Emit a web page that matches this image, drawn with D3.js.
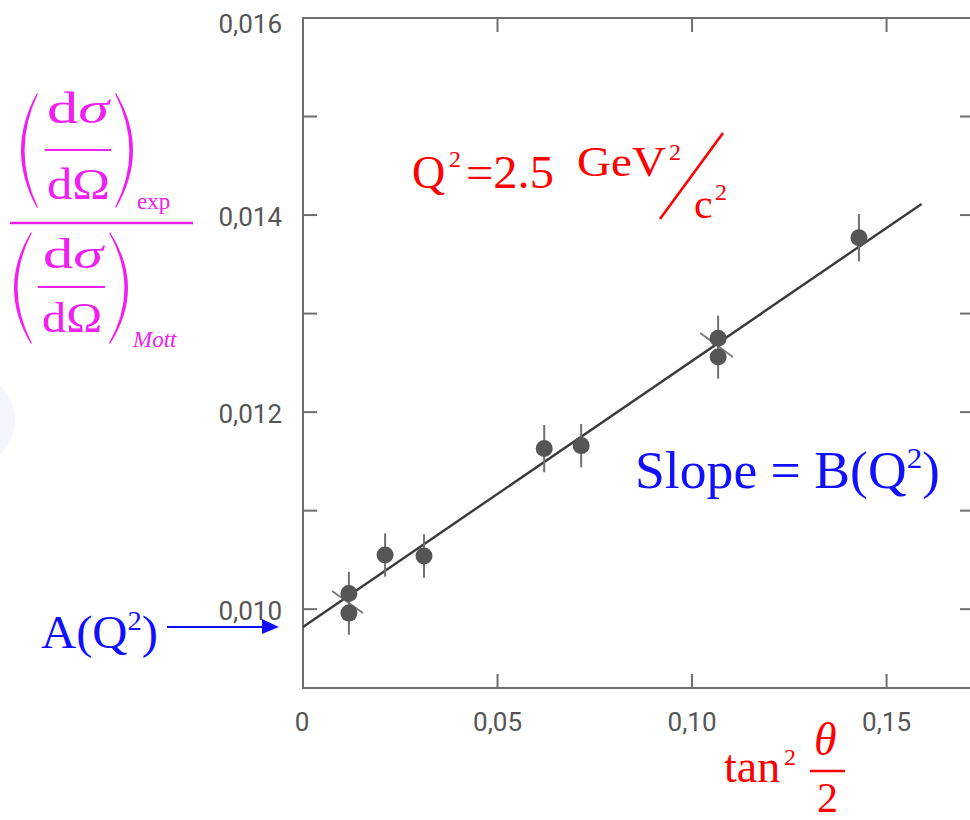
<!DOCTYPE html>
<html>
<head>
<meta charset="utf-8">
<script src="https://cdn.jsdelivr.net/npm/d3@7"></script>
<style>
  html, body { margin: 0; padding: 0; background: #fff; }
  svg { display: block; }
</style>
</head>
<body>
<svg id="chart" width="970" height="820"></svg>
<script>
// ---------------- data ----------------
const tanSqHalfTheta = [0.0118, 0.0118, 0.0211, 0.0311, 0.0620, 0.0715, 0.1067, 0.1067, 0.1429];
const crossSectionRatio = [0.01016, 0.00996, 0.01055, 0.01054, 0.01163, 0.01166, 0.01275, 0.01256, 0.01377];
const ratioError = [0.00022, 0.00022, 0.00022, 0.00022, 0.00024, 0.00022, 0.00023, 0.00022, 0.00024];

const fitIntercept = 0.00982;   // A(Q^2)
const fitSlope = 0.0270;        // B(Q^2)
const fitXRange = [0, 0.159];

// short marks crossing the fit line (error envelope of the fit)
const envelopeX1 = [0.0075, 0.1021];
const envelopeY1 = [0.010184, 0.012803];
const envelopeX2 = [0.0154, 0.1105];
const envelopeY2 = [0.009961, 0.012559];

const xTickValues = [0, 0.05, 0.10, 0.15];
const xTickLabels = ["0", "0,05", "0,10", "0,15"];
const yTickValues = [0.010, 0.012, 0.014, 0.016];
const yTickLabels = ["0,010", "0,012", "0,014", "0,016"];
const yMinorTicks = [0.010, 0.011, 0.012, 0.013, 0.014, 0.015, 0.016];

// ---------------- layout ----------------
const svg = d3.select("#chart");
const W = 970, H = 820;
svg.append("rect").attr("width", W).attr("height", H).attr("fill", "#fff");

// faint background artefact at left
svg.append("ellipse").attr("cx", -55).attr("cy", 420).attr("rx", 70).attr("ry", 56)
  .attr("fill", "#f3f7fd");

const x = d3.scaleLinear().domain([0, 0.1735]).range([303, 978]);
const y = d3.scaleLinear().domain([0.0092, 0.016]).range([688, 18]);

const frameColor = "#6e6e6e";
const tickFont = "Roboto, 'Open Sans', Arial, sans-serif";

// frame
const g = svg.append("g");
g.append("rect")
  .attr("x", x(0)).attr("y", y(0.016))
  .attr("width", x(0.1735) - x(0)).attr("height", y(0.0092) - y(0.016))
  .attr("fill", "none").attr("stroke", frameColor).attr("stroke-width", 2);

// y ticks (inward, both sides)
const tickLen = 14;
yMinorTicks.forEach(v => {
  g.append("line").attr("x1", x(0)).attr("x2", x(0) + tickLen)
    .attr("y1", y(v)).attr("y2", y(v)).attr("stroke", frameColor).attr("stroke-width", 2);
  g.append("line").attr("x1", x(0.1735)).attr("x2", x(0.1735) - tickLen - 4)
    .attr("y1", y(v)).attr("y2", y(v)).attr("stroke", frameColor).attr("stroke-width", 2);
});
// x ticks (inward bottom & top)
xTickValues.slice(1).forEach(v => {
  g.append("line").attr("x1", x(v)).attr("x2", x(v))
    .attr("y1", y(0.0092)).attr("y2", y(0.0092) - tickLen).attr("stroke", frameColor).attr("stroke-width", 2);
  g.append("line").attr("x1", x(v)).attr("x2", x(v))
    .attr("y1", y(0.016)).attr("y2", y(0.016) + tickLen).attr("stroke", frameColor).attr("stroke-width", 2);
});

// tick labels
yTickValues.forEach((v, i) => {
  g.append("text").attr("x", 282).attr("y", y(v) + 11 + (i === 3 ? 4 : 0))
    .attr("text-anchor", "end").attr("font-family", tickFont).attr("font-size", 26)
    .attr("fill", "#555").text(yTickLabels[i]);
});
xTickValues.forEach((v, i) => {
  g.append("text").attr("x", x(v) - (i === 0 ? 1 : 0)).attr("y", 731)
    .attr("text-anchor", "middle").attr("font-family", tickFont).attr("font-size", 26)
    .attr("fill", "#555").text(xTickLabels[i]);
});

// fit line
g.append("line")
  .attr("x1", x(fitXRange[0])).attr("y1", y(fitIntercept + fitSlope * fitXRange[0]))
  .attr("x2", x(fitXRange[1])).attr("y2", y(fitIntercept + fitSlope * fitXRange[1]))
  .attr("stroke", "#3a3a3a").attr("stroke-width", 2.4);

// envelope marks
envelopeX1.forEach((v, i) => {
  g.append("line")
    .attr("x1", x(envelopeX1[i])).attr("y1", y(envelopeY1[i]))
    .attr("x2", x(envelopeX2[i])).attr("y2", y(envelopeY2[i]))
    .attr("stroke", "#777").attr("stroke-width", 1.8);
});

// error bars
tanSqHalfTheta.forEach((v, i) => {
  g.append("line")
    .attr("x1", x(v)).attr("x2", x(v))
    .attr("y1", y(crossSectionRatio[i] + ratioError[i]))
    .attr("y2", y(crossSectionRatio[i] - ratioError[i]))
    .attr("stroke", "#707070").attr("stroke-width", 2);
});
// points
tanSqHalfTheta.forEach((v, i) => {
  g.append("circle").attr("cx", x(v)).attr("cy", y(crossSectionRatio[i]))
    .attr("r", 8.5).attr("fill", "#555");
});

// ---------------- annotations ----------------
const serif = "'Liberation Serif', 'Times New Roman', serif";

function paren(sel, xl, xr, y0, y1, left, color, thick) {
  const ym = (y0 + y1) / 2;
  let p;
  if (left) {
    const c1 = 2 * xl - xr, c2 = 2 * (xl + thick) - xr;
    p = `M${xr},${y0} Q${c1},${ym} ${xr},${y1} L${xr + 0.8},${y1 - 1} Q${c2},${ym} ${xr + 0.8},${y0 + 1} Z`;
  } else {
    const c1 = 2 * xr - xl, c2 = 2 * (xr - thick) - xl;
    p = `M${xl},${y0} Q${c1},${ym} ${xl},${y1} L${xl - 0.8},${y1 - 1} Q${c2},${ym} ${xl - 0.8},${y0 + 1} Z`;
  }
  sel.append("path").attr("d", p).attr("fill", color);
}

function dsig(sel, x0, yb, fs, len, color) {
  const t = sel.append("text").attr("x", x0).attr("y", yb).attr("font-family", serif)
    .attr("font-size", fs).attr("fill", color)
    .attr("textLength", len).attr("lengthAdjust", "spacingAndGlyphs");
  t.append("tspan").text("d");
  t.append("tspan").attr("font-style", "italic").text("σ");
}
function domega(sel, x0, yb, fs, len, color) {
  sel.append("text").attr("x", x0).attr("y", yb).attr("font-family", serif)
    .attr("font-size", fs).attr("fill", color)
    .attr("textLength", len).attr("lengthAdjust", "spacingAndGlyphs").text("dΩ");
}

const mag = "#f020f0";
const ylab = svg.append("g");
// upper (exp)
paren(ylab, 21, 37, 93, 208, true, mag, 3.2);
paren(ylab, 116, 133, 93, 208, false, mag, 3.2);
dsig(ylab, 47, 123, 44, 62, mag);
ylab.append("line").attr("x1", 45).attr("x2", 111).attr("y1", 150).attr("y2", 150)
  .attr("stroke", mag).attr("stroke-width", 1.8);
domega(ylab, 47, 199, 44, 63, mag);
ylab.append("text").attr("x", 137).attr("y", 209).attr("font-family", serif).attr("font-size", 23)
  .attr("fill", mag).text("exp");
// main bar
ylab.append("line").attr("x1", 10).attr("x2", 193).attr("y1", 223).attr("y2", 223)
  .attr("stroke", mag).attr("stroke-width", 2.6);
// lower (Mott)
paren(ylab, 14, 31, 232, 344, true, mag, 3.2);
paren(ylab, 110, 128, 232, 344, false, mag, 3.2);
dsig(ylab, 43, 268, 42, 60, mag);
ylab.append("line").attr("x1", 38).attr("x2", 105).attr("y1", 287).attr("y2", 287)
  .attr("stroke", mag).attr("stroke-width", 1.8);
domega(ylab, 42, 332, 42, 60, mag);
ylab.append("text").attr("x", 133).attr("y", 347).attr("font-family", serif).attr("font-size", 23)
  .attr("font-style", "italic").attr("fill", mag).text("Mott");

// red title
const red = "#ff0000";
const t = svg.append("g").attr("fill", red).attr("font-family", serif);
t.append("text").attr("x", 412).attr("y", 188).attr("font-size", 46).text("Q");
t.append("text").attr("x", 449).attr("y", 167).attr("font-size", 24).text("2");
t.append("text").attr("x", 466).attr("y", 188).attr("font-size", 46)
  .attr("textLength", 88).attr("lengthAdjust", "spacingAndGlyphs").text("=2.5");
t.append("text").attr("x", 577).attr("y", 176).attr("font-size", 43)
  .attr("textLength", 89).attr("lengthAdjust", "spacingAndGlyphs").text("GeV");
t.append("text").attr("x", 669).attr("y", 160).attr("font-size", 24).text("2");
svg.append("line").attr("x1", 660).attr("y1", 219).attr("x2", 723).attr("y2", 133)
  .attr("stroke", red).attr("stroke-width", 2.6);
t.append("text").attr("x", 694).attr("y", 218).attr("font-size", 42).text("c");
t.append("text").attr("x", 715).attr("y", 200).attr("font-size", 24).text("2");

// blue slope text
const blue = "#1010ff";
const s = svg.append("text").attr("x", 635).attr("y", 488).attr("font-family", serif)
  .attr("font-size", 52).attr("fill", blue).attr("textLength", 305).attr("lengthAdjust", "spacingAndGlyphs");
s.append("tspan").text("Slope = B(Q");
s.append("tspan").attr("font-size", 30).attr("dy", -20).text("2");
s.append("tspan").attr("dy", 20).text(")");

// A(Q^2) with arrow
const a = svg.append("text").attr("x", 41).attr("y", 648).attr("font-family", serif)
  .attr("font-size", 46).attr("fill", blue).attr("textLength", 117).attr("lengthAdjust", "spacingAndGlyphs");
a.append("tspan").text("A(Q");
a.append("tspan").attr("font-size", 27).attr("dy", -18).text("2");
a.append("tspan").attr("dy", 18).text(")");
svg.append("line").attr("x1", 167).attr("x2", 266).attr("y1", 627).attr("y2", 627)
  .attr("stroke", blue).attr("stroke-width", 2.2);
svg.append("path").attr("d", "M262,619 L279,627 L262,634 Z").attr("fill", blue);

// x-axis label tan^2 (theta/2)
const xl = svg.append("g").attr("fill", red).attr("font-family", serif);
xl.append("text").attr("x", 724).attr("y", 782).attr("font-size", 46).text("tan");
xl.append("text").attr("x", 784).attr("y", 765).attr("font-size", 24).text("2");
xl.append("text").attr("x", 814).attr("y", 755).attr("font-size", 46).attr("font-style", "italic").text("θ");
svg.append("line").attr("x1", 810).attr("x2", 845).attr("y1", 771).attr("y2", 771)
  .attr("stroke", red).attr("stroke-width", 2.6);
xl.append("text").attr("x", 817).attr("y", 812).attr("font-size", 42).text("2");
</script>
</body>
</html>
